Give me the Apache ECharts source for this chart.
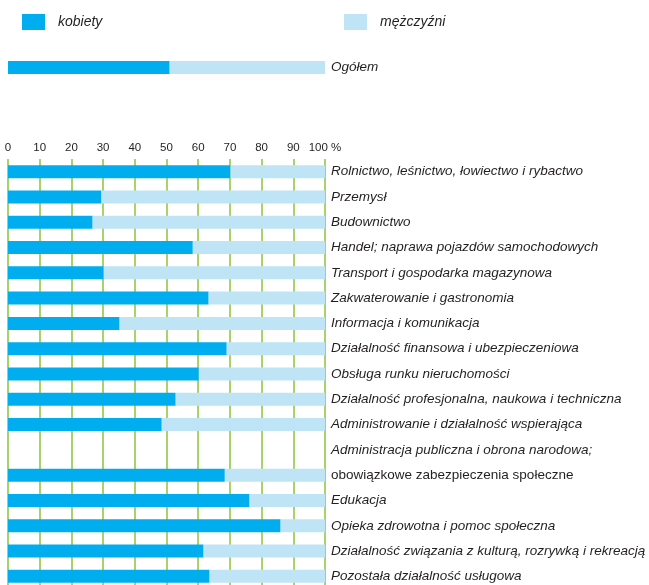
<!DOCTYPE html>
<html>
<head>
<meta charset="utf-8">
<script src="https://cdn.jsdelivr.net/npm/echarts@6/dist/echarts.min.js"></script>
<style>
  html, body { margin: 0; padding: 0; background: #fff; }
  #chart { width: 649px; height: 585px; }
</style>
</head>
<body>
<div id="chart"></div>
<script>
// dane: udział kobiet i mężczyzn w %
let categories = [
    'Rolnictwo, leśnictwo, łowiectwo i rybactwo',
    'Przemysł',
    'Budownictwo',
    'Handel; naprawa pojazdów samochodowych',
    'Transport i gospodarka magazynowa',
    'Zakwaterowanie i gastronomia',
    'Informacja i komunikacja',
    'Działalność finansowa i ubezpieczeniowa',
    'Obsługa runku nieruchomości',
    'Działalność profesjonalna, naukowa i techniczna',
    'Administrowanie i działalność wspierająca',
    'Administracja publiczna i obrona narodowa;',
    'obowiązkowe zabezpieczenia społeczne',
    'Edukacja',
    'Opieka zdrowotna i pomoc społeczna',
    'Działalność związania z kulturą, rozrywką i rekreacją',
    'Pozostała działalność usługowa'
];
let kobiety = [70.2, 29.5, 26.7, 58.3, 30.2, 63.3, 35.2, 69.0, 60.2, 52.9, 48.5, null, 68.4, 76.2, 86.0, 61.7, 63.6];
let mezczyzni = kobiety.map(v => v == null ? null : +(100 - v).toFixed(1));

let totalLabel = ['Ogółem'];
let totalK = [51.0];
let totalM = [49.0];

let font = '"Liberation Sans", sans-serif';

var myChart = echarts.init(document.getElementById('chart'));

let option = {
    color: ['#00aeef', '#bfe4f6'],
    animation: false,

    legend: [{
        data: ['kobiety'],
        left: 17,
        top: 9,
        icon: 'rect',
        itemWidth: 23,
        itemHeight: 16,
        textStyle: { fontFamily: font, fontStyle: 'italic', fontSize: 14, color: '#231f20', padding: [0, 0, 0, 8] }
    }, {
        data: ['mężczyźni'],
        left: 339,
        top: 9,
        icon: 'rect',
        itemWidth: 23,
        itemHeight: 16,
        textStyle: { fontFamily: font, fontStyle: 'italic', fontSize: 14, color: '#231f20', padding: [0, 0, 0, 8] }
    }],

    grid: [{
        left: 8,
        width: 317,
        top: 159,
        bottom: -4,
        containLabel: false,
        outerBoundsMode: 'none'
    }, {
        left: 8,
        width: 317,
        top: 61,
        height: 13,
        containLabel: false,
        outerBoundsMode: 'none'
    }],

    xAxis: [{
        type: 'value',
        gridIndex: 0,
        position: 'top',
        min: 0,
        max: 100,
        interval: 10,
        axisLine: { show: false },
        axisTick: { show: false },
        axisLabel: {
            margin: 5,
            fontFamily: font,
            fontSize: 11.5,
            color: '#231f20',
            formatter: v => v === 100 ? '100 %' : String(v)
        },
        splitLine: {
            show: true,
            lineStyle: { color: '#a6d46a', width: 2 }
        }
    }, {
        type: 'value',
        gridIndex: 1,
        min: 0,
        max: 100,
        show: false
    }],

    yAxis: [{
        type: 'category',
        gridIndex: 0,
        position: 'right',
        inverse: true,
        data: categories,
        axisLine: { show: false },
        axisTick: { show: false },
        splitLine: { show: false },
        axisLabel: {
            margin: 6,
            interval: 0,
            formatter: (v, i) => (i === 12 ? '{n|' : '{i|') + v + '}',
            rich: {
                i: { fontFamily: font, fontStyle: 'italic', fontSize: 13.5, color: '#231f20' },
                n: { fontFamily: font, fontStyle: 'normal', fontSize: 13.5, color: '#231f20' }
            }
        }
    }, {
        type: 'category',
        gridIndex: 1,
        position: 'right',
        data: totalLabel,
        axisLine: { show: false },
        axisTick: { show: false },
        axisLabel: {
            margin: 6,
            fontFamily: font,
            fontStyle: 'italic',
            fontSize: 13.5,
            color: '#231f20'
        }
    }],

    series: [{
        name: 'kobiety',
        type: 'bar',
        stack: 'razem',
        barWidth: 13,
        xAxisIndex: 0,
        yAxisIndex: 0,
        data: kobiety
    }, {
        name: 'mężczyźni',
        type: 'bar',
        stack: 'razem',
        barWidth: 13,
        xAxisIndex: 0,
        yAxisIndex: 0,
        data: mezczyzni
    }, {
        name: 'kobiety',
        type: 'bar',
        stack: 'ogolem',
        barWidth: 13,
        xAxisIndex: 1,
        yAxisIndex: 1,
        data: totalK
    }, {
        name: 'mężczyźni',
        type: 'bar',
        stack: 'ogolem',
        barWidth: 13,
        xAxisIndex: 1,
        yAxisIndex: 1,
        data: totalM
    }]
};

myChart.setOption(option);
</script>
</body>
</html>
